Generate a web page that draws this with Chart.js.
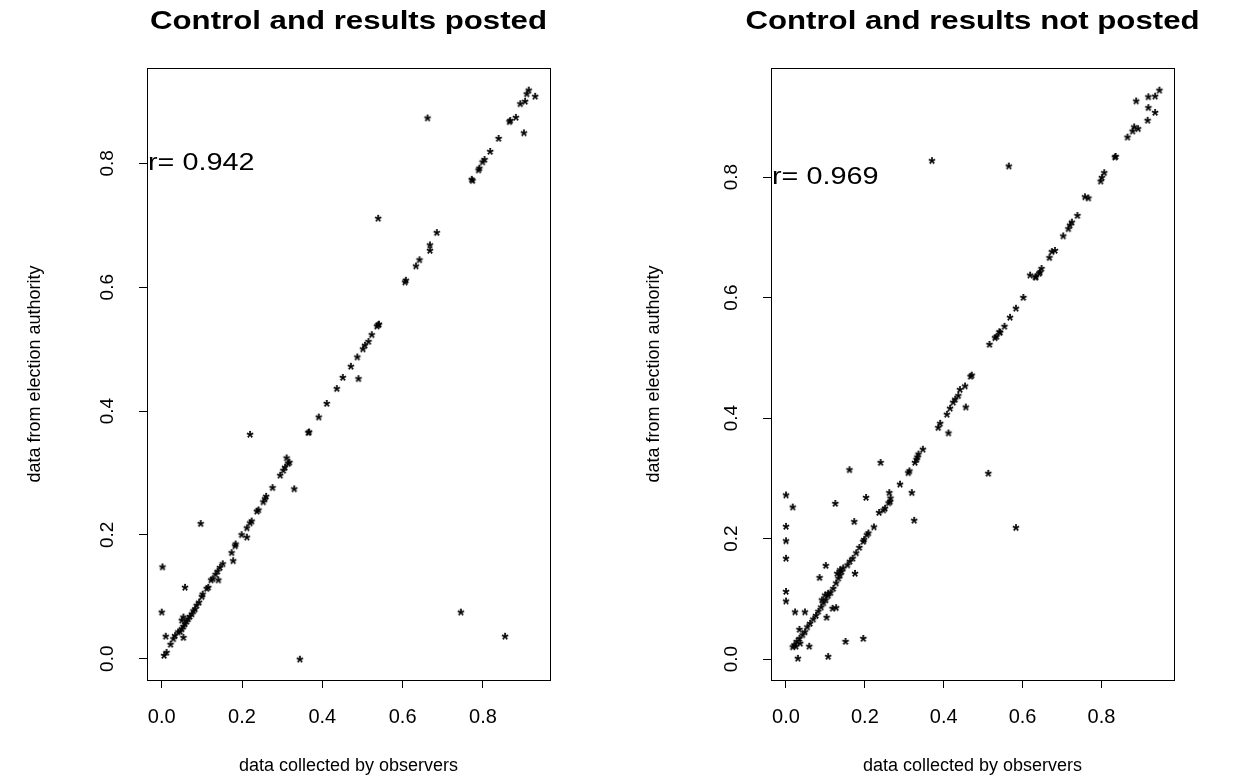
<!DOCTYPE html>
<html>
<head>
<meta charset="utf-8">
<script src="https://cdn.jsdelivr.net/npm/chart.js@4.4.1/dist/chart.umd.min.js"></script>
<style>
  html, body { margin: 0; padding: 0; background: #fff; }
  #wrap { display: flex; width: 1238px; height: 780px; }
  .panel { width: 619px; height: 780px; }
</style>
</head>
<body>
<div id="wrap">
  <div class="panel"><canvas id="posted" width="619" height="780"></canvas></div>
  <div class="panel"><canvas id="notPosted" width="619" height="780"></canvas></div>
</div>
<script>
// values (observer data vs. election authority data)
const postedX = [0.662, 0.539, 0.685, 0.668, 0.668, 0.642, 0.633, 0.608, 0.606, 0.539, 0.536, 0.541, 0.523, 0.515, 0.506, 0.501, 0.487, 0.471, 0.451, 0.490,
  0.914, 0.909, 0.930, 0.905, 0.893, 0.882, 0.868, 0.866, 0.902, 0.839, 0.818, 0.804, 0.799, 0.791, 0.789, 0.772, 0.774,
  0.436, 0.411, 0.391, 0.367, 0.365, 0.220, 0.311, 0.318, 0.315, 0.307, 0.303, 0.295, 0.276, 0.330, 0.260, 0.257, 0.253,
  0.241, 0.237, 0.224, 0.220, 0.212, 0.199, 0.212, 0.184, 0.183, 0.174, 0.178, 0.152, 0.145, 0.139, 0.134, 0.127, 0.123, 0.141,
  0.116, 0.112, 0.102, 0.100, 0.093, 0.087, 0.083, 0.079, 0.075, 0.070, 0.066, 0.062, 0.058, 0.054, 0.050, 0.046, 0.041,
  0.054, 0.050, 0.097, 0.058, 0.002, 0.000, 0.010, 0.054, 0.029, 0.022, 0.012, 0.006, 0.033, 0.344, 0.745, 0.855];
const postedY = [0.874, 0.712, 0.689, 0.669, 0.660, 0.645, 0.635, 0.612, 0.609, 0.540, 0.538, 0.541, 0.524, 0.513, 0.507, 0.501, 0.488, 0.473, 0.455, 0.453,
  0.919, 0.913, 0.909, 0.901, 0.897, 0.875, 0.870, 0.868, 0.850, 0.841, 0.820, 0.807, 0.803, 0.793, 0.790, 0.775, 0.773,
  0.437, 0.413, 0.391, 0.367, 0.366, 0.363, 0.325, 0.318, 0.316, 0.310, 0.305, 0.297, 0.277, 0.275, 0.263, 0.259, 0.254,
  0.241, 0.239, 0.223, 0.220, 0.212, 0.201, 0.197, 0.186, 0.183, 0.172, 0.159, 0.154, 0.148, 0.142, 0.137, 0.130, 0.128, 0.128,
  0.116, 0.114, 0.105, 0.101, 0.092, 0.087, 0.081, 0.078, 0.073, 0.069, 0.065, 0.061, 0.057, 0.053, 0.049, 0.045, 0.044,
  0.068, 0.063, 0.219, 0.116, 0.149, 0.076, 0.037, 0.035, 0.033, 0.024, 0.011, 0.006, 0.038, 0.000, 0.076, 0.037];

const notPostedX = [0.370, 0.565, 0.619, 0.632, 0.642, 0.602, 0.583, 0.568, 0.554, 0.541, 0.534, 0.516, 0.468, 0.471,
  0.947, 0.919, 0.936, 0.888, 0.919, 0.936, 0.917, 0.883, 0.893, 0.879, 0.866, 0.834, 0.836, 0.807, 0.801, 0.798,
  0.758, 0.767, 0.739, 0.725, 0.720, 0.716, 0.703, 0.682, 0.674, 0.668, 0.648, 0.644, 0.634, 0.543, 0.530,
  0.454, 0.441, 0.437, 0.429, 0.424, 0.456, 0.416, 0.408, 0.391, 0.386, 0.412, 0.347, 0.336, 0.333, 0.331, 0.327,
  0.313, 0.310, 0.240, 0.513, 0.289, 0.262, 0.265, 0.319, 0.203, 0.161, 0.260, 0.264, 0.251, 0.247, 0.236,
  0.223, 0.209, 0.205, 0.198, 0.196, 0.325, 0.173, 0.125, 0.186, 0.178, 0.169, 0.162, 0.156, 0.145, 0.141, 0.137, 0.133,
  0.127, 0.120, 0.113, 0.107, 0.101, 0.095, 0.089, 0.082, 0.076, 0.069, 0.061, 0.054, 0.048, 0.042, 0.034, 0.027, 0.021, 0.017,
  0.107, 0.099, 0.137, 0.130, 0.091, 0.025, 0.036, 0.101, 0.085, 0.175, 0.127, 0.118, 0.103, 0.023, 0.048, 0.034,
  0.000, 0.017, 0.000, 0.000, 0.000, 0.000, 0.000, 0.059, 0.030, 0.151, 0.196, 0.107, 0.583];
const notPostedY = [0.828, 0.819, 0.638, 0.635, 0.641, 0.601, 0.583, 0.568, 0.553, 0.544, 0.536, 0.523, 0.470, 0.472,
  0.945, 0.934, 0.935, 0.927, 0.916, 0.908, 0.895, 0.884, 0.881, 0.877, 0.867, 0.834, 0.835, 0.808, 0.800, 0.794,
  0.768, 0.766, 0.737, 0.726, 0.721, 0.715, 0.703, 0.679, 0.677, 0.667, 0.649, 0.643, 0.635, 0.543, 0.534,
  0.454, 0.448, 0.438, 0.432, 0.427, 0.419, 0.417, 0.407, 0.392, 0.385, 0.376, 0.349, 0.341, 0.336, 0.332, 0.327,
  0.313, 0.310, 0.327, 0.309, 0.291, 0.277, 0.268, 0.277, 0.269, 0.315, 0.260, 0.262, 0.251, 0.248, 0.244,
  0.220, 0.210, 0.207, 0.199, 0.196, 0.231, 0.229, 0.259, 0.186, 0.177, 0.168, 0.163, 0.157, 0.152, 0.146, 0.140, 0.135,
  0.127, 0.118, 0.111, 0.106, 0.099, 0.094, 0.087, 0.080, 0.073, 0.067, 0.060, 0.054, 0.046, 0.041, 0.035, 0.030, 0.024, 0.021,
  0.110, 0.107, 0.149, 0.143, 0.099, 0.022, 0.027, 0.156, 0.136, 0.143, 0.086, 0.085, 0.070, 0.079, 0.079, 0.050,
  0.273, 0.253, 0.221, 0.197, 0.168, 0.113, 0.097, 0.022, 0.002, 0.030, 0.035, 0.005, 0.219];

const xTicks = [0, 0.2, 0.4, 0.6, 0.8];
const yTicks = [0, 0.2, 0.4, 0.6, 0.8];
const postedRange = { xmin: -0.0366, xmax: 0.967, ymin: -0.0344, ymax: 0.954 };
const notPostedRange = { xmin: -0.038, xmax: 0.984, ymin: -0.0348, ymax: 0.981 };

const FAMILY = '"Liberation Sans", Arial, Helvetica, sans-serif';
// the original's lettering is drawn a bit wider than the font's own shape
const TEXT_STRETCH = 1.2;

// R draws pch="*" as a text glyph, so build the marker from the glyph too
function starMarker() {
  const size = 14;
  const c = document.createElement('canvas');
  c.width = size; c.height = size;
  const g = c.getContext('2d');
  g.font = 'bold 18px ' + FAMILY;
  g.fillStyle = '#000';
  const m = g.measureText('*');
  const x = size / 2 - (m.actualBoundingBoxRight - m.actualBoundingBoxLeft) / 2;
  const y = size / 2 + (m.actualBoundingBoxAscent - m.actualBoundingBoxDescent) / 2;
  g.fillText('*', x, y);
  return c;
}
const STAR = starMarker();

function stretchedText(ctx, text, x, y, align) {
  ctx.save();
  ctx.translate(x, y);
  ctx.scale(TEXT_STRETCH, 1);
  ctx.textAlign = align;
  ctx.fillText(text, 0, 0);
  ctx.restore();
}

// box, rotated y labels, main title and the r= note
const rFrame = {
  id: 'rFrame',
  afterDraw(chart, args, opts) {
    const { ctx, chartArea: a } = chart;
    const y = chart.scales.y;
    ctx.save();
    ctx.strokeStyle = '#000';
    ctx.lineWidth = 1;
    ctx.strokeRect(Math.round(a.left) + 0.5, Math.round(a.top) + 0.5, Math.round(a.right - a.left), Math.round(a.bottom - a.top));
    ctx.fillStyle = '#000';
    ctx.font = '19px ' + FAMILY;
    ctx.textAlign = 'center';
    ctx.textBaseline = 'middle';
    yTicks.forEach(v => {
      ctx.save();
      ctx.translate(a.left - 39, y.getPixelForValue(v));
      ctx.rotate(-Math.PI / 2);
      ctx.fillText(v.toFixed(1), 0, 0);
      ctx.restore();
    });
    ctx.font = 'bold 26px ' + FAMILY;
    stretchedText(ctx, opts.title, (a.left + a.right) / 2, 22, 'center');
    ctx.font = '24px ' + FAMILY;
    stretchedText(ctx, opts.note, a.left + 1, y.getPixelForValue(0.8), 'left');
    ctx.restore();
  }
};

function drawPanel(id, xs, ys, range, areaLeft, areaRight, title, note) {
  const el = document.getElementById(id);
  return new Chart(el, {
    type: 'scatter',
    data: {
      datasets: [{
        data: xs.map((v, i) => ({ x: v, y: ys[i] })),
        pointStyle: STAR,
        pointRadius: 7,
        pointHoverRadius: 7,
      }],
    },
    options: {
      responsive: false,
      animation: false,
      devicePixelRatio: 1,
      layout: { padding: { left: 0, right: 619 - areaRight, top: 68, bottom: 0 } },
      plugins: {
        legend: { display: false },
        tooltip: { enabled: false },
        title: { display: false },
        rFrame: { title: title, note: note },
      },
      scales: {
        x: {
          type: 'linear',
          min: range.xmin,
          max: range.xmax,
          afterBuildTicks: s => { s.ticks = xTicks.map(v => ({ value: v })); },
          afterFit: s => { s.height = 100; },
          border: { display: false },
          grid: { drawOnChartArea: false, drawTicks: true, tickLength: 8, color: '#000' },
          ticks: {
            color: '#000',
            font: { family: FAMILY, size: 20 },
            padding: 17,
            maxRotation: 0,
            autoSkip: false,
            callback: v => v.toFixed(1),
          },
          title: {
            display: true,
            text: 'data collected by observers',
            color: '#000',
            font: { family: FAMILY, size: 18 },
            padding: { top: 0, bottom: 3 },
          },
        },
        y: {
          type: 'linear',
          min: range.ymin,
          max: range.ymax,
          afterBuildTicks: s => { s.ticks = yTicks.map(v => ({ value: v })); },
          afterFit: s => { s.width = areaLeft; },
          border: { display: false },
          grid: { drawOnChartArea: false, drawTicks: true, tickLength: 8, color: '#000' },
          ticks: { display: false },
          title: {
            display: true,
            text: 'data from election authority',
            color: '#000',
            font: { family: FAMILY, size: 18 },
            padding: { top: 24, bottom: 0 },
          },
        },
      },
    },
    plugins: [rFrame],
  });
}

drawPanel('posted', postedX, postedY, postedRange, 147, 550, 'Control and results posted', 'r= 0.942');
drawPanel('notPosted', notPostedX, notPostedY, notPostedRange, 152, 555, 'Control and results not posted', 'r= 0.969');
</script>
</body>
</html>
